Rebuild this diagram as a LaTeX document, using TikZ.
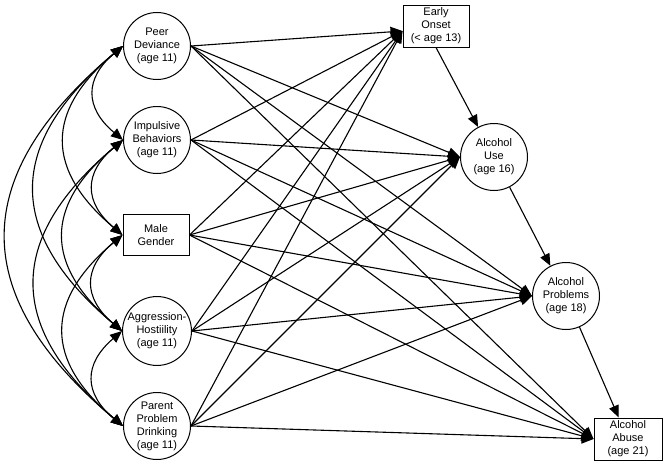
\documentclass[tikz,border=0pt]{standalone}
\usepackage{fontspec}
\setmainfont{Liberation Sans}
\usetikzlibrary{arrows.meta}
\begin{document}
\begin{tikzpicture}[x=1pt,y=-1pt,
  every node/.style={font=\fontsize{11}{13}\selectfont, align=center, inner sep=0pt},
  latent/.style={draw, circle, line width=1pt, minimum size=67pt},
  observed/.style={draw, rectangle, line width=1pt, minimum width=66pt, minimum height=41pt},
  path/.style={line width=1.1pt, -{Triangle[length=12pt,width=10pt]}},
  cov/.style={line width=1.1pt, {Triangle[length=12pt,width=10pt]}-{Triangle[length=12pt,width=10pt]}, bend right=50, looseness=1.37}]
\useasboundingbox (0,0) rectangle (667,466);
\node[latent] (pd) at (157,46) {Peer\\Deviance\\(age 11)};
\node[latent] (ib) at (157,140) {Impulsive\\Behaviors\\(age 11)};
\node[observed] (mg) at (156,235) {Male\\Gender};
\node[latent] (ah) at (157,331) {Aggression-\\Hostiility\\(age 11)};
\node[latent] (pp) at (157,426) {Parent\\Problem\\Drinking\\(age 11)};
\node[observed, minimum height=42pt] (eo) at (436,26) {Early\\Onset\\(< age 13)};
\node[latent] (au) at (494,157) {Alcohol\\Use\\(age 16)};
\node[latent] (ap) at (566,296) {Alcohol\\Problems\\(age 18)};
\node[observed, minimum width=68pt, minimum height=42pt] (aa) at (628,439) {Alcohol\\Abuse\\(age 21)};
\coordinate (eoin) at ([yshift=-5pt]eo.west);
% structural paths
\foreach \s in {pd,ib,mg,ah,pp}{
  \draw[path] (\s.east) -- (eoin);
  \draw[path] (\s.east) -- (au.west);
  \draw[path] (\s.east) -- (ap.west);
  \draw[path] (\s.east) -- (aa.west);
}
\draw[path] (eo.south) -- (au);
\draw[path] (au) -- (ap);
\draw[path] (ap) -- (aa);
% covariances
\draw[cov] (pd.west) to (ib.west);
\draw[cov] (pd.west) to (mg.west);
\draw[cov] (pd.west) to (ah.west);
\draw[cov] (pd.west) to (pp.west);
\draw[cov] (ib.west) to (mg.west);
\draw[cov] (ib.west) to (ah.west);
\draw[cov] (ib.west) to (pp.west);
\draw[cov] (mg.west) to (ah.west);
\draw[cov] (mg.west) to (pp.west);
\draw[cov] (ah.west) to (pp.west);
\end{tikzpicture}
\end{document}
